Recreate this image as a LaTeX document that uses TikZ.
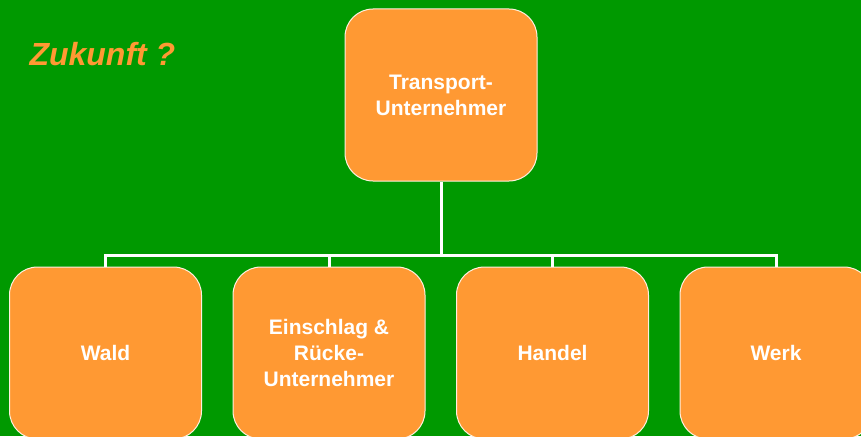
\documentclass[tikz,border=0pt]{standalone}
\usepackage{fontspec}
\setmainfont{Liberation Sans}
\definecolor{bggreen}{HTML}{009900}
\definecolor{boxorange}{HTML}{FF9933}
\begin{document}
\begin{tikzpicture}[x=1pt,y=-1pt,
  orgbox/.style={draw=white!85!boxorange, line width=1pt, fill=boxorange,
    rounded corners=28pt, minimum width=192pt, minimum height=172pt,
    text=white, align=center, inner sep=0pt,
    font=\fontsize{21}{26}\selectfont\bfseries},
  link/.style={draw=white, line width=3pt}]
\fill[bggreen] (0,0) rectangle (861,436);
\useasboundingbox (0,0) rectangle (861,436);
\clip (0,0) rectangle (861,436);
\node[anchor=base west, text=boxorange, font=\fontsize{32}{38}\selectfont\bfseries\itshape] (title) at (26,66) {Zukunft ?};
\node[orgbox] (top) at (441,95) {Transport-\\Unternehmer};
\node[orgbox] (wald) at (105.5,353) {Wald};
\node[orgbox] (einschlag) at (329,353) {Einschlag \&\\Rücke-\\Unternehmer};
\node[orgbox] (handel) at (552.5,353) {Handel};
\node[orgbox] (werk) at (776,353) {Werk};
\coordinate (bus) at (441,255);
\draw[link] (top.south) -- (bus);
\draw[link] (wald.north) |- (bus);
\draw[link] (einschlag.north) |- (bus);
\draw[link] (handel.north) |- (bus);
\draw[link] (werk.north) |- (bus);
\end{tikzpicture}
\end{document}
